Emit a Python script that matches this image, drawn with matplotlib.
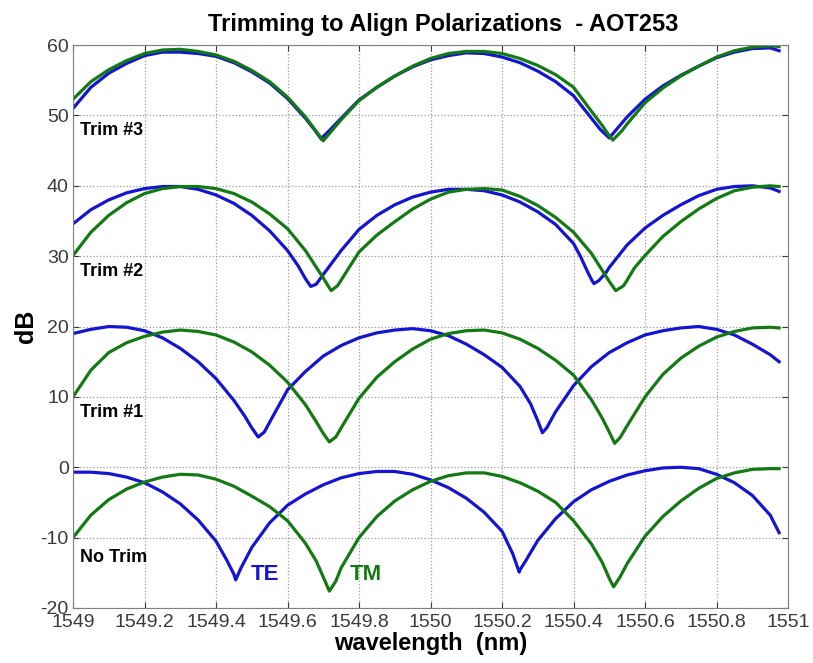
import matplotlib
matplotlib.use("Agg")
import matplotlib.pyplot as plt
import numpy as np

plt.rcParams['font.family'] = ['Liberation Sans', 'DejaVu Sans']
plt.rcParams['axes.unicode_minus'] = False

wl = [1549.00, 1549.05, 1549.10, 1549.15, 1549.20, 1549.25, 1549.30, 1549.35, 1549.40, 1549.45,
      1549.50, 1549.55, 1549.60, 1549.65, 1549.70, 1549.75, 1549.80, 1549.85, 1549.90, 1549.95,
      1550.00, 1550.05, 1550.10, 1550.15, 1550.20, 1550.25, 1550.30, 1550.35, 1550.40, 1550.45,
      1550.50, 1550.55, 1550.60, 1550.65, 1550.70, 1550.75, 1550.80, 1550.85, 1550.90, 1550.95,
      1550.975]

# ---- Trim #3 ----
t3_te = [51.0, 54.0, 56.0, 57.4, 58.5, 59.0, 59.0, 58.8, 58.4, 57.5,
         56.2, 54.6, 52.4, 49.6, 47.0, 49.6, 52.2, 54.0, 55.6, 56.9,
         57.9, 58.5, 58.9, 58.8, 58.3, 57.5, 56.3, 54.8, 52.8, 49.6,
         46.8, 49.8, 52.3, 54.2, 55.7, 57.0, 58.2, 59.0, 59.5, 59.6,
         59.2]
t3_te_dip_x = [1549.675, 1549.695, 1549.72, 1550.475, 1550.525]
t3_te_dip_y = [48.0, 46.6, 48.0, 48.0, 48.3]
t3_tm = [52.3, 54.8, 56.5, 57.8, 58.8, 59.3, 59.4, 59.1, 58.6, 57.7,
         56.4, 54.8, 52.6, 49.8, 46.4, 49.4, 52.1, 54.0, 55.6, 57.0,
         58.1, 58.8, 59.1, 59.1, 58.8, 58.1, 57.1, 55.8, 54.0, 50.6,
         47.1, 48.8, 51.8, 53.9, 55.6, 57.0, 58.3, 59.2, 59.7, 59.9,
         59.8]
t3_tm_dip_x = [1549.675, 1549.725, 1550.48, 1550.51, 1550.535]
t3_tm_dip_y = [48.1, 47.9, 48.6, 46.5, 47.8]

# ---- Trim #2 ----
t2_te = [34.6, 36.6, 38.0, 39.0, 39.6, 39.9, 39.9, 39.5, 38.7, 37.5,
         35.8, 33.6, 30.8, 26.8, 27.4, 30.8, 33.8, 35.8, 37.3, 38.4,
         39.1, 39.5, 39.5, 39.3, 38.7, 37.7, 36.3, 34.5, 31.8, 26.7,
         28.4, 31.6, 34.0, 35.8, 37.3, 38.6, 39.5, 39.9, 40.0, 39.7,
         39.2]
t2_te_dip_x = [1549.63, 1549.665, 1549.68, 1550.42, 1550.44, 1550.457, 1550.47, 1550.49]
t2_te_dip_y = [28.6, 25.7, 26.0, 29.9, 27.7, 26.1, 26.5, 27.6]
t2_tm = [30.1, 33.4, 35.8, 37.6, 38.9, 39.6, 39.9, 39.9, 39.6, 38.9,
         37.7, 36.0, 33.9, 30.8, 26.9, 26.6, 30.6, 33.0, 34.9, 36.7,
         38.1, 39.1, 39.5, 39.6, 39.4, 38.5, 37.2, 35.5, 33.4, 30.4,
         26.4, 26.6, 30.1, 32.8, 34.9, 36.7, 38.2, 39.3, 39.8, 40.0,
         39.9]
t2_tm_dip_x = [1549.722, 1549.74, 1549.77, 1550.518, 1550.54, 1550.57]
t2_tm_dip_y = [25.1, 25.8, 28.2, 25.1, 25.8, 28.3]

# ---- Trim #1 ----
t1_te = [19.0, 19.6, 20.0, 19.9, 19.4, 18.4, 16.9, 15.0, 12.6, 9.5,
         5.6, 6.4, 11.0, 13.6, 15.8, 17.3, 18.4, 19.1, 19.5, 19.7,
         19.4, 18.7, 17.5, 16.0, 14.2, 11.5, 6.6, 7.9, 11.6, 14.3,
         16.3, 17.7, 18.8, 19.4, 19.8, 20.0, 19.6, 18.8, 17.5, 16.0,
         15.0]
t1_te_dip_x = [1549.48, 1549.518, 1549.535, 1550.28, 1550.313, 1550.325]
t1_te_dip_y = [7.3, 4.3, 5.0, 9.0, 4.9, 5.6]
t1_tm = [10.0, 13.8, 16.3, 17.7, 18.6, 19.2, 19.5, 19.3, 18.8, 17.8,
         16.4, 14.5, 12.1, 8.9, 4.8, 5.6, 9.8, 12.8, 15.0, 16.8,
         18.2, 19.0, 19.4, 19.5, 19.1, 18.2, 16.9, 15.2, 13.1, 9.6,
         5.0, 5.9, 10.0, 13.2, 15.5, 17.2, 18.5, 19.3, 19.8, 19.9,
         19.8]
t1_tm_dip_x = [1549.68, 1549.717, 1549.735, 1550.48, 1550.515, 1550.53]
t1_tm_dip_y = [6.5, 3.6, 4.3, 7.0, 3.4, 4.2]

# ---- No Trim ----
t0_te = [-0.7, -0.7, -0.9, -1.4, -2.2, -3.5, -5.2, -7.5, -10.5, -15.2,
         -11.4, -7.9, -5.4, -3.8, -2.5, -1.5, -0.9, -0.6, -0.6, -1.0,
         -1.8, -2.9, -4.4, -6.4, -9.1, -14.6, -10.4, -7.3, -4.9, -3.2,
         -2.0, -1.1, -0.5, -0.1, 0.0, -0.2, -1.0, -2.2, -4.0, -6.8,
         -9.3]
t0_te_dip_x = [1549.43, 1549.455, 1549.47, 1550.23, 1550.248, 1550.265]
t0_te_dip_y = [-13.2, -16.0, -14.3, -12.3, -14.9, -13.4]
t0_tm = [-10.0, -6.8, -4.6, -3.1, -2.1, -1.4, -1.0, -1.1, -1.7, -2.7,
         -4.1, -5.6, -7.6, -10.8, -15.6, -14.3, -10.0, -7.0, -4.8, -3.2,
         -2.0, -1.2, -0.8, -0.8, -1.3, -2.2, -3.4, -5.0, -7.6, -10.9,
         -15.8, -13.7, -9.8, -7.0, -4.8, -3.0, -1.6, -0.8, -0.3, -0.2,
         -0.2]
t0_tm_dip_x = [1549.68, 1549.717, 1549.735, 1550.48, 1550.512, 1550.53]
t0_tm_dip_y = [-13.3, -17.6, -16.2, -13.5, -17.0, -15.6]

trim_labels = ['Trim #3', 'Trim #2', 'Trim #1', 'No Trim']
trim_label_y = [47.8, 27.8, 7.8, -12.8]
xticks = [1549, 1549.2, 1549.4, 1549.6, 1549.8, 1550, 1550.2, 1550.4, 1550.6, 1550.8, 1551]
xticklabels = ['1549', '1549.2', '1549.4', '1549.6', '1549.8', '1550',
               '1550.2', '1550.4', '1550.6', '1550.8', '1551']
yticks = [-20, -10, 0, 10, 20, 30, 40, 50, 60]

te_color = '#1414d2'
tm_color = '#137a13'


def merged(grid_y, dip_x, dip_y):
    x = np.concatenate([wl, dip_x])
    y = np.concatenate([grid_y, dip_y])
    order = np.argsort(x)
    return x[order], y[order]


fig = plt.figure(figsize=(8.13, 6.63), dpi=100)
ax = fig.add_axes([0.0898, 0.083, 0.8795, 0.849])

traces = [
    (t3_te, t3_te_dip_x, t3_te_dip_y, te_color),
    (t3_tm, t3_tm_dip_x, t3_tm_dip_y, tm_color),
    (t2_te, t2_te_dip_x, t2_te_dip_y, te_color),
    (t2_tm, t2_tm_dip_x, t2_tm_dip_y, tm_color),
    (t1_te, t1_te_dip_x, t1_te_dip_y, te_color),
    (t1_tm, t1_tm_dip_x, t1_tm_dip_y, tm_color),
    (t0_te, t0_te_dip_x, t0_te_dip_y, te_color),
    (t0_tm, t0_tm_dip_x, t0_tm_dip_y, tm_color),
]
for gy, dx, dy, c in traces:
    x, y = merged(gy, dx, dy)
    ax.plot(x, y, color=c, lw=2.3, solid_joinstyle='round')

for lab, ly in zip(trim_labels, trim_label_y):
    ax.text(1549.02, ly, lab, fontsize=13, fontweight='bold', va='center', ha='left')

ax.text(1549.537, -15.3, 'TE', color=te_color, fontsize=16, fontweight='bold',
        va='center', ha='center')
ax.text(1549.82, -15.3, 'TM', color=tm_color, fontsize=16, fontweight='bold',
        va='center', ha='center')

ax.set_xlim(1549, 1551)
ax.set_ylim(-20, 60)
ax.set_xticks(xticks)
ax.set_xticklabels(xticklabels)
ax.set_yticks(yticks)
ax.tick_params(direction='in', top=True, right=True, labelsize=14, colors='#3a3a3a',
               length=4, pad=3)
ax.tick_params(axis='x', pad=4)
ax.grid(True, linestyle=':', color='#9a9a9a', lw=0.9)
for sp in ax.spines.values():
    sp.set_color('#808080')

ax.set_title('Trimming to Align Polarizations  - AOT253', fontsize=17, fontweight='bold',
             pad=10, x=0.518)
ax.set_xlabel('wavelength  (nm)', fontsize=17, fontweight='bold', labelpad=1)
ax.set_ylabel('dB', fontsize=18, fontweight='bold', labelpad=2)

fig.savefig('out.png', dpi=100)
